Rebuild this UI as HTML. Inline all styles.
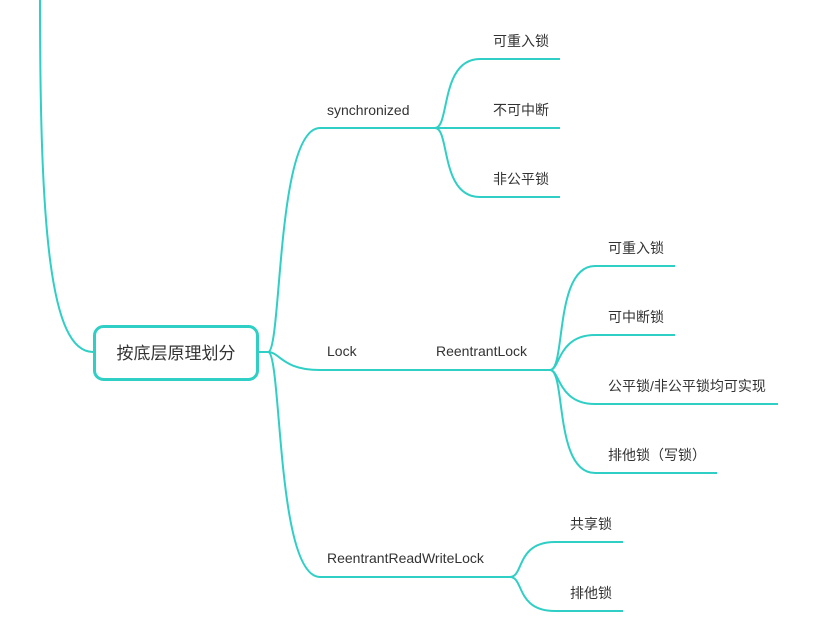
<!DOCTYPE html>
<html><head><meta charset="utf-8"><style>
body{margin:0;background:#fff;width:829px;height:619px;overflow:hidden;}
svg text{font-family:"Liberation Sans","Noto Sans CJK SC",sans-serif;fill:#333;font-size:14px;}
</style></head><body>
<svg width="829" height="619" viewBox="0 0 829 619" xmlns="http://www.w3.org/2000/svg">
<g fill="none" stroke="#2fcfc6" stroke-width="2">
<path d="M40 0 C40 230 50 352 93 352"/>
<path d="M259 352 H268"/>
<path d="M268 352 C282 352 276 128 320 128 H435"/>
<path d="M268 352 C280 352 282 370 320 370 H550"/>
<path d="M268 352 C282 352 276 577 320 577 H510"/>
<path d="M435 128 C450 128 440 59 480 59 H560"/>
<path d="M435 128 H560"/>
<path d="M435 128 C450 128 440 197 480 197 H560"/>
<path d="M550 370 C566 370 554 266 595 266 H675"/>
<path d="M550 370 C560 370 558 335 595 335 H675"/>
<path d="M550 370 C560 370 558 404 595 404 H778"/>
<path d="M550 370 C566 370 554 473 595 473 H717"/>
<path d="M510 577 C524 577 516 542 555 542 H623"/>
<path d="M510 577 C524 577 516 611 555 611 H623"/>
</g>
<rect x="94.5" y="326.5" width="163" height="53" rx="9" fill="#fff" stroke="#2fcfc6" stroke-width="3"/>
<text x="176" y="359" text-anchor="middle" style="font-size:17px">按底层原理划分</text>
<text x="327" y="115">synchronized</text>
<text x="327" y="356">Lock</text>
<text x="436" y="356">ReentrantLock</text>
<text x="327" y="563">ReentrantReadWriteLock</text>
<text x="493" y="46">可重入锁</text>
<text x="493" y="115">不可中断</text>
<text x="493" y="184">非公平锁</text>
<text x="608" y="253">可重入锁</text>
<text x="608" y="322">可中断锁</text>
<text x="608" y="391">公平锁/非公平锁均可实现</text>
<text x="608" y="460">排他锁（写锁）</text>
<text x="570" y="529">共享锁</text>
<text x="570" y="598">排他锁</text>
</svg>
</body></html>
